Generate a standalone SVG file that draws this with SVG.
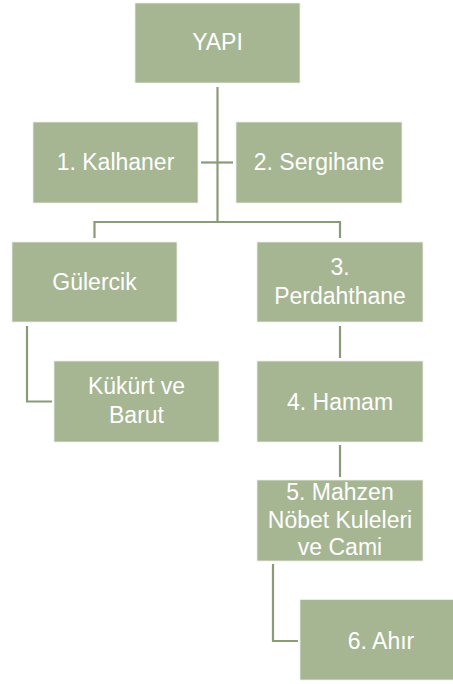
<svg xmlns="http://www.w3.org/2000/svg" width="453" height="684" viewBox="0 0 453 684">
<style>
.box{fill:#A6B592;stroke:#EEF1E9;stroke-width:0.8}
.t{font-family:"Liberation Sans",Arial,sans-serif;font-size:23px;fill:#FFFFFF;text-anchor:middle}
.c{fill:none;stroke:#8A9B78;stroke-width:2.2}
</style>
<rect width="453" height="684" fill="#FFFFFF"/>
<g id="connectors">
<path class="c" d="M217.5,87 V222"/>
<path class="c" d="M201,162.5 H233"/>
<path class="c" d="M94.5,238 V222 H340 V238"/>
<path class="c" d="M27,326 V401.5 H52"/>
<path class="c" d="M340,326 V358"/>
<path class="c" d="M340,445 V477"/>
<path class="c" d="M273,564 V641 H298"/>
</g>
<g id="yapi"><rect class="box" x="135" y="3" width="165" height="80"/><text class="t" x="217.5" y="49.5">YAPI</text></g>
<g id="kalhaner"><rect class="box" x="33" y="122" width="165" height="81"/><text class="t" x="115.5" y="169.5">1. Kalhaner</text></g>
<g id="sergihane"><rect class="box" x="236" y="122" width="166" height="81"/><text class="t" x="319" y="169.5">2. Sergihane</text></g>
<g id="gulercik"><rect class="box" x="12" y="242" width="165" height="80"/><text class="t" x="94.5" y="290">Gülercik</text></g>
<g id="perdahthane"><rect class="box" x="257" y="242" width="166" height="80"/><text class="t" x="340" y="275">3.</text><text class="t" x="340" y="304">Perdahthane</text></g>
<g id="kukurt"><rect class="box" x="54" y="361" width="165" height="81"/><text class="t" x="136.5" y="393.5">Kükürt ve</text><text class="t" x="136.5" y="423">Barut</text></g>
<g id="hamam"><rect class="box" x="257" y="361" width="166" height="81"/><text class="t" x="340" y="409.5">4. Hamam</text></g>
<g id="mahzen"><rect class="box" x="257" y="480" width="166" height="81"/><text class="t" x="340" y="500">5. Mahzen</text><text class="t" x="340" y="527.5">Nöbet Kuleleri</text><text class="t" x="340" y="555">ve Cami</text></g>
<g id="ahir"><rect class="box" x="300" y="599.5" width="165" height="80.5"/><text class="t" x="381" y="648.5">6. Ahır</text></g>
</svg>
